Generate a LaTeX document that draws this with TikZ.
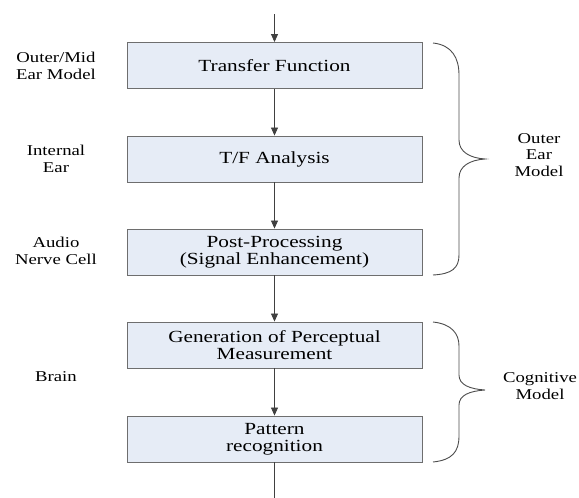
\documentclass[tikz,border=0pt]{standalone}
\usepackage{fontspec}
\usetikzlibrary{arrows.meta}
\setmainfont{Liberation Serif}[FakeStretch=1.25]
\definecolor{boxfill}{HTML}{E6ECF6}
\definecolor{boxline}{HTML}{6E6E6E}
\tikzset{
  procbox/.style={draw=boxline, line width=0.9pt, fill=boxfill, minimum width=295pt, minimum height=46pt, inner sep=0pt, align=center, font=\rmfamily\fontsize{17}{17}\selectfont},
  sidelabel/.style={align=center, inner sep=0pt, font=\rmfamily\fontsize{15}{16.5}\selectfont},
  flow/.style={draw=black!75, line width=0.8pt, -{Triangle[length=8pt,width=7pt]}},
  bracepath/.style={draw=black!70, line width=0.9pt}
}
\begin{document}
\begin{tikzpicture}[x=1pt,y=-1pt]
\useasboundingbox (0,0) rectangle (579,498);
\node[procbox] (tf) at (274.5,65.5) {Transfer Function};
\node[procbox] (an) at (274.5,159) {T/F Analysis};
\node[procbox] (pp) at (274.5,252) {Post-Processing\\(Signal Enhancement)};
\node[procbox] (gp) at (274.5,345) {Generation of Perceptual\\Measurement};
\node[procbox] (pr) at (274.5,439) {Pattern\\recognition};
\coordinate (in) at (274.5,14);
\coordinate (out) at (274.5,498);
\draw[flow] (in) -- (tf);
\draw[flow] (tf) -- (an);
\draw[flow] (an) -- (pp);
\draw[flow] (pp) -- (gp);
\draw[flow] (gp) -- (pr);
\draw[draw=black!75, line width=0.8pt] (pr) -- (out);
\node[sidelabel] (l1) at (56,66) {Outer/Mid\\Ear Model};
\node[sidelabel] (l2) at (56,159) {Internal\\Ear};
\node[sidelabel] (l3) at (56,251) {Audio\\Nerve Cell};
\node[sidelabel] (l4) at (56,377) {Brain};
\node[sidelabel] (r1) at (539,155) {Outer\\Ear\\Model};
\node[sidelabel] (r2) at (540,386) {Cognitive\\Model};
\draw[bracepath] (433,43) .. controls (452,45) and (459,58) .. (459,75) -- (459,140)
  .. controls (459,152) and (470,158) .. (485,159)
  .. controls (470,160) and (459,166) .. (459,178) -- (459,255)
  .. controls (459,268) and (452,274) .. (433,275);
\draw[bracepath] (433,322) .. controls (452,324) and (459,334) .. (459,346) -- (459,375)
  .. controls (459,385) and (470,389) .. (485,390)
  .. controls (470,391) and (459,395) .. (459,405) -- (459,436)
  .. controls (459,452) and (452,460) .. (433,462);
\end{tikzpicture}
\end{document}
